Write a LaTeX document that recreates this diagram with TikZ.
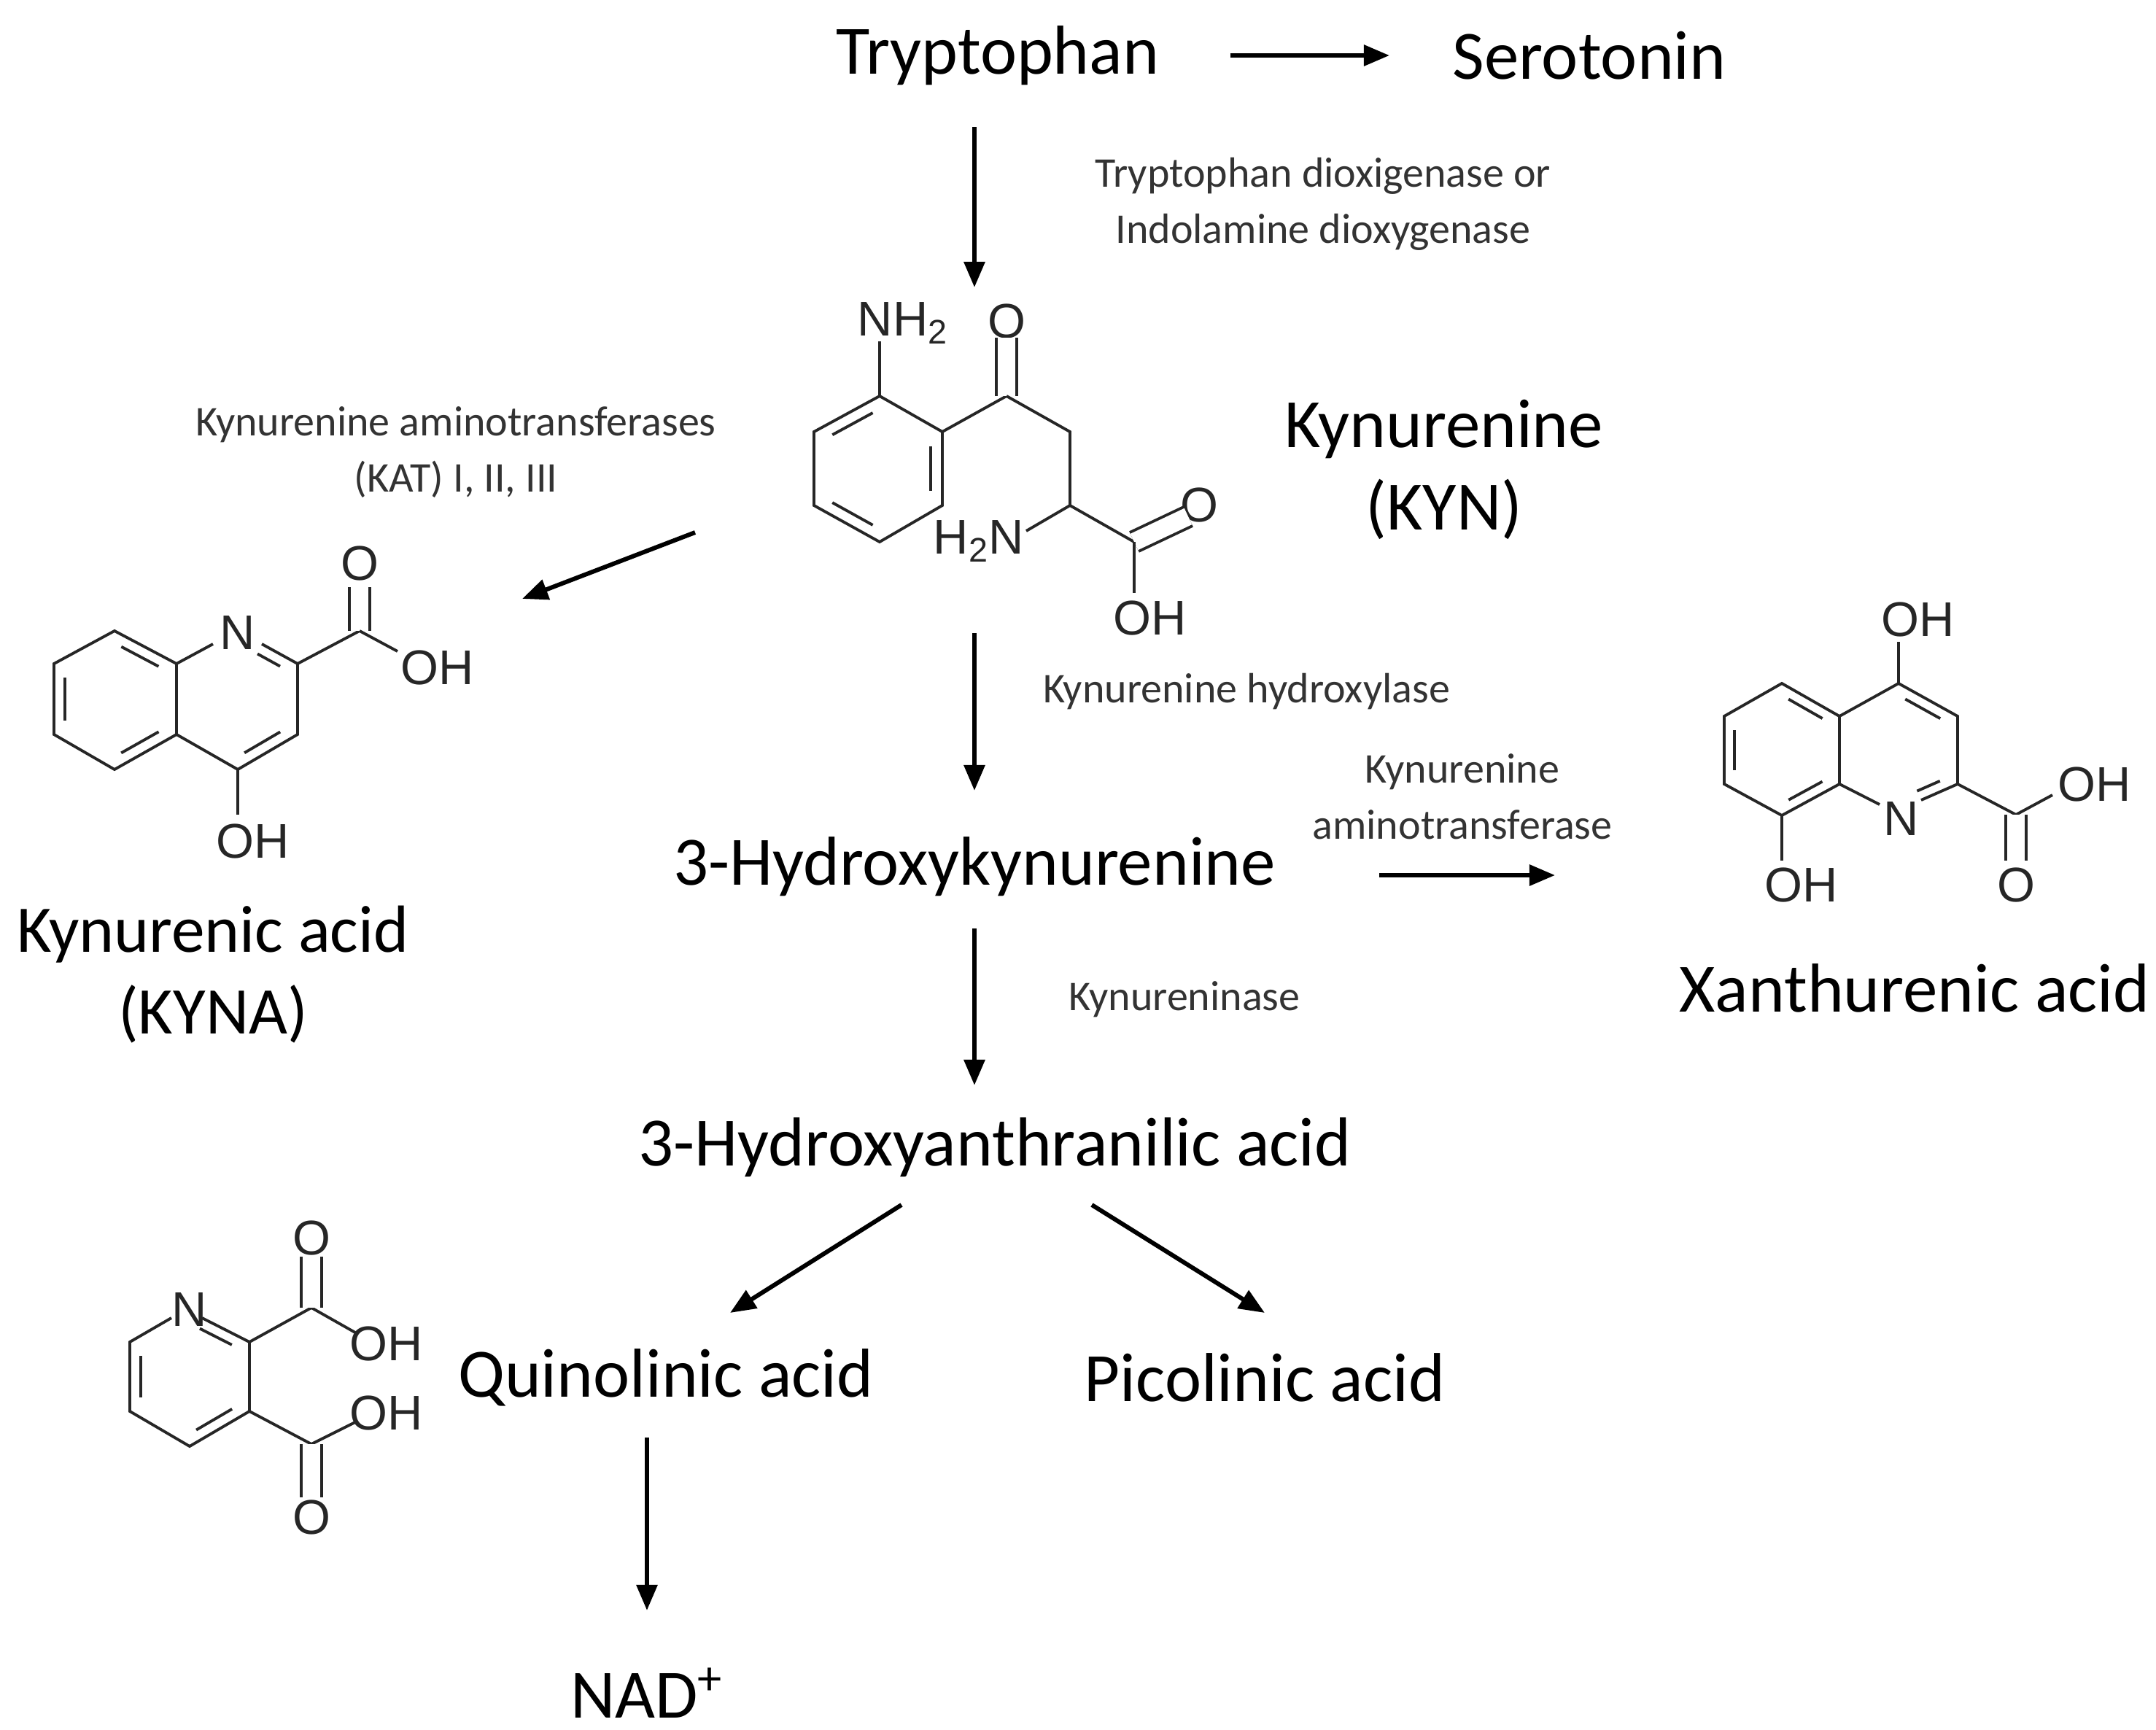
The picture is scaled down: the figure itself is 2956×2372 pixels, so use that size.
\documentclass[tikz,border=0pt]{standalone}
\usepackage{fontspec}
\setmainfont{Carlito}
\newfontfamily\chemfont{Liberation Sans}
\usetikzlibrary{arrows.meta,calc}
\tikzset{
  big/.style={font=\fontsize{27}{32}\selectfont, inner sep=0pt},
  enz/.style={font=\fontsize{16.5}{22}\selectfont, text=black!80, align=center, inner sep=0pt},
  arr/.style={-{Triangle[length=10pt,width=8pt]}, line width=1.7pt},
  bond/.style={line width=1.1pt, black!85},
  dbond/.style={line width=1.1pt, black!85, double, double distance=7pt},
  inner/.style={line width=1.1pt, black!85, shorten <=3pt, shorten >=3pt},
  atom/.style={font=\chemfont\fontsize{19}{22}\selectfont, inner sep=0pt, black!85},
}
\begin{document}
\begin{tikzpicture}[x=0.01cm,y=-0.01cm]
\useasboundingbox (0,0) rectangle (2956,2372);
% ---------- main text nodes
\node[big] (trp) at (1368,76) {Tryptophan};
\node[big] (ser) at (2179,76) {Serotonin};
\node[big,align=center] (kyn) at (1980,644) {Kynurenine\\(KYN)};
\node[big,align=center,font=\fontsize{26}{32}\selectfont] (kyna) at (292,1336) {Kynurenic acid\\(KYNA)};
\node[big] (hk) at (1336,1188) {3-Hydroxykynurenine};
\node[big] (xa) at (2625,1355) {Xanthurenic acid};
\node[big] (haa) at (1364,1573) {3-Hydroxyanthranilic acid};
\node[big] (qa) at (913,1889) {Quinolinic acid};
\node[big] (pa) at (1734,1889) {Picolinic acid};
\node[big] (nad) at (887,2321) {NAD\textsuperscript{+}};
% ---------- enzyme labels
\node[enz] (e1) at (1814,280) {Tryptophan dioxigenase or\\Indolamine dioxygenase};
\node[enz] (e2) at (625,620) {Kynurenine aminotransferases\\(KAT) I, II, III};
\node[enz] (e3) at (1709,948) {Kynurenine hydroxylase};
\node[enz] (e4) at (2005,1092) {Kynurenine\\aminotransferase};
\node[enz] (e5) at (1624,1370) {Kynureninase};
% ---------- arrows
\coordinate (a1s) at (1687,76); \coordinate (a1e) at (1905,76);
\draw[arr] (a1s) -- (a1e);
\coordinate (a2s) at (1336,174); \coordinate (a2e) at (1336,394);
\draw[arr] (a2s) -- (a2e);
\coordinate (a3s) at (953,730); \coordinate (a3e) at (716,821);
\draw[arr] (a3s) -- (a3e);
\coordinate (a4s) at (1336,868); \coordinate (a4e) at (1336,1084);
\draw[arr] (a4s) -- (a4e);
\coordinate (a5s) at (1891,1200); \coordinate (a5e) at (2132,1200);
\draw[arr] (a5s) -- (a5e);
\coordinate (a6s) at (1336,1273); \coordinate (a6e) at (1336,1488);
\draw[arr] (a6s) -- (a6e);
\coordinate (a7s) at (1236,1652); \coordinate (a7e) at (1001,1800);
\draw[arr] (a7s) -- (a7e);
\coordinate (a8s) at (1497,1652); \coordinate (a8e) at (1734,1800);
\draw[arr] (a8s) -- (a8e);
\coordinate (a9s) at (887,1971); \coordinate (a9e) at (887,2208);
\draw[arr] (a9s) -- (a9e);
% ---------- Kynurenine structure
\coordinate (k1) at (1206,543); \coordinate (k2) at (1292,592);
\coordinate (k3) at (1292,693); \coordinate (k4) at (1206,743);
\coordinate (k5) at (1116,693); \coordinate (k6) at (1116,592);
\coordinate (kc) at (1205,643);
\draw[bond] (k1)--(k2)--(k3)--(k4)--(k5)--(k6)--cycle;
\draw[inner] ($(k6)!0.18!(kc)$) -- ($(k1)!0.18!(kc)$);
\draw[inner] ($(k2)!0.18!(kc)$) -- ($(k3)!0.18!(kc)$);
\draw[inner] ($(k4)!0.18!(kc)$) -- ($(k5)!0.18!(kc)$);
\node[atom] (knh2) at (1238,443) {NH\textsubscript{2}};
\coordinate (knb) at (1206,468);
\draw[bond] (k1) -- (knb);
\coordinate (kco) at (1380,543); \coordinate (kob) at (1380,463);
\node[atom] (ko) at (1380,440) {O};
\draw[bond] (k2) -- (kco);
\draw[dbond] (kco) -- (kob);
\coordinate (kch2) at (1467,592); \coordinate (kch) at (1467,693);
\draw[bond] (kco) -- (kch2) -- (kch);
\coordinate (kh2nb) at (1407,728);
\node[atom] (kh2n) at (1342,742) {H\textsubscript{2}N};
\draw[bond] (kch) -- (kh2nb);
\coordinate (kcooh) at (1555,743); \coordinate (kco2b) at (1629,708);
\node[atom] (ko2) at (1644,692) {O};
\draw[bond] (kch) -- (kcooh);
\draw[dbond] (kcooh) -- (kco2b);
\coordinate (kohb) at (1555,813);
\node[atom] (koh) at (1577,847) {OH};
\draw[bond] (kcooh) -- (kohb);
% ---------- Kynurenic acid structure
\coordinate (q1) at (157,865); \coordinate (q2) at (242,910);
\coordinate (q3) at (242,1007); \coordinate (q4) at (157,1055);
\coordinate (q5) at (74,1007); \coordinate (q6) at (74,910);
\coordinate (qc) at (157,958);
\draw[bond] (q1)--(q2)--(q3)--(q4)--(q5)--(q6)--cycle;
\draw[inner] ($(q1)!0.18!(qc)$) -- ($(q2)!0.18!(qc)$);
\draw[inner] ($(q5)!0.18!(qc)$) -- ($(q6)!0.18!(qc)$);
\draw[inner] ($(q3)!0.18!(qc)$) -- ($(q4)!0.18!(qc)$);
\node[atom] (qn) at (326,868) {N};
\coordinate (qnb1) at (292,883); \coordinate (qnb2) at (359,883);
\coordinate (qa2) at (408,910); \coordinate (qa3) at (408,1007);
\coordinate (qa4) at (326,1055); \coordinate (qpc) at (326,958);
\draw[bond] (q2) -- (qnb1);
\draw[bond] (qnb2) -- (qa2) -- (qa3) -- (qa4) -- (q3);
\draw[inner,shorten <=0pt] ($(qnb2)!0.18!(qpc)$) -- ($(qa2)!0.18!(qpc)$);
\draw[inner] ($(qa3)!0.18!(qpc)$) -- ($(qa4)!0.18!(qpc)$);
\coordinate (qcooh) at (493,865); \coordinate (qob) at (493,805);
\node[atom] (qo) at (493,772) {O};
\draw[bond] (qa2) -- (qcooh);
\draw[dbond] (qcooh) -- (qob);
\coordinate (qohb) at (545,893);
\node[atom] (qoh) at (600,915) {OH};
\draw[bond] (qcooh) -- (qohb);
\coordinate (qoh2b) at (326,1117);
\node[atom] (qoh2) at (347,1153) {OH};
\draw[bond] (qa4) -- (qoh2b);
% ---------- Xanthurenic acid structure
\coordinate (x1) at (2443,937); \coordinate (x2) at (2522,982);
\coordinate (x3) at (2522,1075); \coordinate (x4) at (2443,1118);
\coordinate (x5) at (2364,1075); \coordinate (x6) at (2364,982);
\coordinate (xc) at (2443,1028);
\draw[bond] (x1)--(x2)--(x3)--(x4)--(x5)--(x6)--cycle;
\draw[inner] ($(x1)!0.18!(xc)$) -- ($(x2)!0.18!(xc)$);
\draw[inner] ($(x5)!0.18!(xc)$) -- ($(x6)!0.18!(xc)$);
\draw[inner] ($(x3)!0.18!(xc)$) -- ($(x4)!0.18!(xc)$);
\coordinate (xa4) at (2603,937); \coordinate (xa3) at (2684,982);
\coordinate (xa2) at (2684,1075); \coordinate (xpc) at (2603,1028);
\node[atom] (xn) at (2607,1123) {N};
\coordinate (xnb1) at (2577,1103); \coordinate (xnb2) at (2634,1097);
\draw[bond] (x2) -- (xa4) -- (xa3) -- (xa2) -- (xnb2);
\draw[bond] (x3) -- (xnb1);
\draw[inner] ($(xa4)!0.18!(xpc)$) -- ($(xa3)!0.18!(xpc)$);
\draw[inner,shorten >=0pt] ($(xa2)!0.18!(xpc)$) -- ($(xnb2)!0.18!(xpc)$);
\coordinate (xohb) at (2603,880);
\node[atom] (xoh) at (2630,849) {OH};
\draw[bond] (xa4) -- (xohb);
\coordinate (xoh8b) at (2443,1180);
\node[atom] (xoh8) at (2470,1213) {OH};
\draw[bond] (x4) -- (xoh8b);
\coordinate (xcooh) at (2764,1117); \coordinate (xcohb) at (2814,1090);
\node[atom] (xcoh) at (2872,1075) {OH};
\draw[bond] (xa2) -- (xcooh) -- (xcohb);
\coordinate (xcob) at (2764,1180);
\node[atom] (xco) at (2764,1213) {O};
\draw[dbond] (xcooh) -- (xcob);
% ---------- Quinolinic acid structure
\node[atom] (pn) at (260,1795) {N};
\coordinate (p2) at (342,1840); \coordinate (p3) at (342,1935);
\coordinate (p4) at (260,1983); \coordinate (p5) at (178,1935);
\coordinate (p6) at (178,1840); \coordinate (pc) at (260,1888);
\coordinate (pnb1) at (235,1807); \coordinate (pnb2) at (277,1807);
\draw[bond] (pnb1) -- (p6) -- (p5) -- (p4) -- (p3) -- (p2) -- (pnb2);
\draw[inner,shorten <=0pt] ($(pnb2)!0.18!(pc)$) -- ($(p2)!0.18!(pc)$);
\draw[inner] ($(p6)!0.18!(pc)$) -- ($(p5)!0.18!(pc)$);
\draw[inner] ($(p3)!0.18!(pc)$) -- ($(p4)!0.18!(pc)$);
\coordinate (pc1) at (427,1793); \coordinate (po1b) at (427,1723);
\node[atom] (po1) at (427,1697) {O};
\coordinate (poh1b) at (487,1827);
\node[atom] (poh1) at (530,1842) {OH};
\draw[bond] (p2) -- (pc1) -- (poh1b);
\draw[dbond] (pc1) -- (po1b);
\coordinate (pc2) at (427,1980); \coordinate (po2b) at (427,2053);
\node[atom] (po2) at (427,2080) {O};
\coordinate (poh2b) at (487,1950);
\node[atom] (poh2) at (530,1937) {OH};
\draw[bond] (p3) -- (pc2) -- (poh2b);
\draw[dbond] (pc2) -- (po2b);
\end{tikzpicture}
\end{document}
